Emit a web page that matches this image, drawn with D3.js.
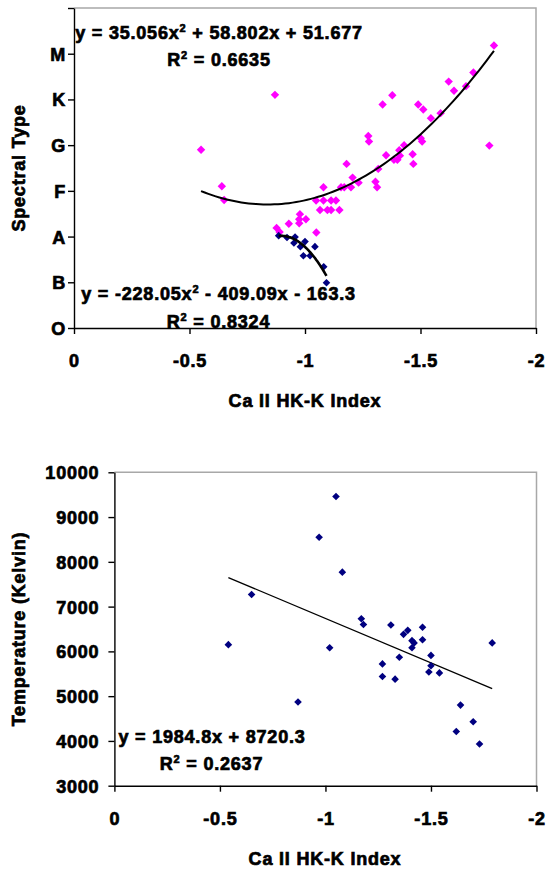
<!DOCTYPE html>
<html>
<head>
<meta charset="utf-8">
<script src="https://cdn.jsdelivr.net/npm/d3@7"></script>
<style>
  html, body { margin: 0; padding: 0; background: #fff; }
  svg text { font-family: "Liberation Sans", Arial, sans-serif; font-weight: bold; font-size: 18px; letter-spacing: 0.8px; fill: #000; stroke: #000; stroke-width: 0.7px; }
</style>
</head>
<body>
<svg id="chart" width="547" height="871"></svg>
<script>
// ---------- DATA ----------
// Top chart: spectral type (O=0, B=10, A=20, F=30, G=40, K=50, M=60) vs Ca II HK-K index
const pinkX = [-0.55, -0.64, -0.65, -0.87, -0.877, -0.89, -0.93, -0.978, -0.975, -0.975, -1.004, -1.049,
  -1.048, -1.08, -1.113, -1.134, -1.065, -1.097, -1.113, -1.149, -1.08, -1.156, -1.17, -1.199,
  -1.206, -1.232, -1.18, -1.274, -1.277, -1.336, -1.378, -1.49, -1.512, -1.545, -1.587,
  -1.351, -1.317, -1.305, -1.312, -1.408, -1.429, -1.385, -1.40, -1.411, -1.466, -1.469,
  -1.501, -1.507, -1.798, -1.622, -1.645, -1.697, -1.729, -1.818];
const pinkY = [39, 31, 28, 51, 21.9, 21, 22.8, 24.9, 23.8, 22.9, 23.8, 20.9,
  27.9, 27.9, 27.9, 27.9, 25.8, 25.8, 25.8, 25.8, 30.8, 30.8, 30.8, 30.8,
  32.9, 31.8, 35.9, 42.0, 40.8, 48.9, 50.9, 48.9, 47.8, 45.9, 47.0,
  37.8, 34.8, 32.0, 30.8, 38.9, 40.0, 36.8, 36.8, 37.7, 38.0, 35.9,
  41.5, 40.8, 39.9, 53.9, 51.9, 52.9, 55.9, 61.8];
const navyX = [-0.886, -0.922, -0.957, -0.952, -0.98, -1.0, -0.993, -1.022, -1.043, -1.081, -1.093];
const navyY = [20.2, 19.8, 19.9, 18.6, 17.8, 18.9, 15.8, 15.8, 17.8, 13.4, 9.9];
const spectralTicks = [0, 10, 20, 30, 40, 50, 60, 70];
const spectralLabels = ["O", "B", "A", "F", "G", "K", "M", ""];
const pinkFit = [35.056, 58.802, 51.677];     // a, b, c
const navyFit = [-228.05, -409.09, -163.3];
const pinkEq = ["y = 35.056x", "2", " + 58.802x + 51.677"]; const pinkR2 = "0.6635";
const navyEq = ["y = -228.05x", "2", " - 409.09x - 163.3"]; const navyR2 = "0.8324";

// Bottom chart: temperature vs Ca II HK-K index
const tempX = [-0.54, -0.65, -0.87, -0.97, -1.02, -1.05, -1.08, -1.17, -1.18, -1.27, -1.27, -1.31,
  -1.33, -1.35, -1.37, -1.39, -1.41, -1.42, -1.41, -1.46, -1.46, -1.50, -1.50, -1.49, -1.54,
  -1.62, -1.64, -1.70, -1.73, -1.79];
const tempY = [6150, 7270, 4870, 8550, 6080, 9460, 7770, 6730, 6600, 5720, 5440, 6590,
  5380, 5870, 6380, 6470, 6240, 6190, 6080, 6260, 6540, 5910, 5680, 5540, 5520,
  4210, 4800, 4430, 3930, 6190];
const tempTicks = [3000, 4000, 5000, 6000, 7000, 8000, 9000, 10000];
const indexTicks = [0, -0.5, -1, -1.5, -2];
const tempFit = [1984.8, 8720.3];  // slope, intercept
const tempEq = "y = 1984.8x + 8720.3"; const tempR2 = "0.2637";
const xTitle = "Ca II HK-K Index";

// ---------- DRAW ----------
const svg = d3.select("#chart");
const diamond = r => `M0,${-r}L${r},0L0,${r}L${-r},0Z`;

function frame(g, x, y) {
  const [x0, x1] = x.range(), [y0, y1] = y.range();
  g.append("path").attr("d", `M${x0},${y1}H${x1}V${y0}`)
    .attr("fill", "none").attr("stroke", "#a8a8a8").attr("stroke-width", 1.5);
}
function styleAxis(g) {
  g.select(".domain").attr("stroke", "#000").attr("stroke-width", 1.4);
  g.selectAll(".tick line").attr("stroke", "#000").attr("stroke-width", 1.4);
  g.selectAll(".tick text").attr("fill", "#000");
  g.attr("font-family", null).attr("font-size", null);
}
function eqText(g, cx, base, parts, r2, base2) {
  const t = g.append("text").attr("x", cx).attr("y", base).attr("text-anchor", "middle");
  t.append("tspan").text(parts[0]);
  t.append("tspan").attr("dy", -7).style("font-size", "11px").text(parts[1]);
  t.append("tspan").attr("dy", 7).text(parts[2]);
  const t2 = g.append("text").attr("x", cx).attr("y", base2).attr("text-anchor", "middle");
  t2.append("tspan").text("R");
  t2.append("tspan").attr("dy", -7).style("font-size", "11px").text("2");
  t2.append("tspan").attr("dy", 7).text(" = " + r2);
}

// ----- Top chart -----
{
  const x = d3.scaleLinear().domain([0, -2]).range([74, 536]);
  const y = d3.scaleLinear().domain([0, 70]).range([328, 8]);
  const g = svg.append("g");
  frame(g, x, y);
  const ax = g.append("g").attr("transform", `translate(0,${y(0)})`)
    .call(d3.axisBottom(x).tickValues(indexTicks).tickFormat(d => d === 0 ? "0" : String(d)).tickSize(6).tickSizeOuter(0).tickPadding(20.5));
  styleAxis(ax);
  const ay = g.append("g").attr("transform", `translate(${x(0)},0)`)
    .call(d3.axisLeft(y).tickValues(spectralTicks).tickFormat((d, i) => spectralLabels[i]).tickSize(6).tickSizeOuter(0).tickPadding(2));
  styleAxis(ay);
  ay.selectAll(".tick text").attr("dy", "0.36em");

  const quad = (c, v) => c[0] * v * v + c[1] * v + c[2];
  const curve = (xs, c) => {
    const lo = d3.max(xs), hi = d3.min(xs), n = 80;
    return d3.range(n + 1).map(i => { const v = lo + (hi - lo) * i / n; return [x(v), y(quad(c, v))]; });
  };
  const line = d3.line();
  g.selectAll(".pink").data(pinkX).join("path")
    .attr("d", diamond(4.2)).attr("fill", "#ff00ff")
    .attr("transform", (d, i) => `translate(${x(d)},${y(pinkY[i])})`);
  g.selectAll(".navy").data(navyX).join("path")
    .attr("d", diamond(3.8)).attr("fill", "#000080")
    .attr("transform", (d, i) => `translate(${x(d)},${y(navyY[i])})`);
  g.append("path").attr("d", line(curve(pinkX, pinkFit))).attr("fill", "none").attr("stroke", "#000").attr("stroke-width", 2);
  g.append("path").attr("d", line(curve(navyX, navyFit))).attr("fill", "none").attr("stroke", "#000").attr("stroke-width", 2.6);

  eqText(g, 219, 38.5, pinkEq, pinkR2, 65.7);
  eqText(g, 218.5, 300, navyEq, navyR2, 328.3);

  g.append("text").attr("x", 305).attr("y", 407).attr("text-anchor", "middle").text(xTitle);
  g.append("text").attr("transform", "translate(25,168) rotate(-90)").attr("text-anchor", "middle").text("Spectral Type");
}

// ----- Bottom chart -----
{
  const x = d3.scaleLinear().domain([0, -2]).range([114.4, 536.5]);
  const y = d3.scaleLinear().domain([3000, 10000]).range([785.7, 472.3]);
  const g = svg.append("g");
  frame(g, x, y);
  const ax = g.append("g").attr("transform", `translate(0,${y(3000)})`)
    .call(d3.axisBottom(x).tickValues(indexTicks).tickFormat(d => d === 0 ? "0" : String(d)).tickSize(6).tickSizeOuter(0).tickPadding(20.5));
  styleAxis(ax);
  const ay = g.append("g").attr("transform", `translate(${x(0)},0)`)
    .call(d3.axisLeft(y).tickValues(tempTicks).tickFormat(d3.format("d")).tickSize(6).tickSizeOuter(0).tickPadding(9));
  styleAxis(ay);
  ay.selectAll(".tick text").attr("dy", "0.36em");

  const lo = d3.max(tempX), hi = d3.min(tempX);
  g.append("line")
    .attr("x1", x(lo)).attr("y1", y(tempFit[0] * lo + tempFit[1]))
    .attr("x2", x(hi)).attr("y2", y(tempFit[0] * hi + tempFit[1]))
    .attr("stroke", "#000").attr("stroke-width", 1.3);
  g.selectAll(".pt").data(tempX).join("path")
    .attr("d", diamond(3.8)).attr("fill", "#000080")
    .attr("transform", (d, i) => `translate(${x(d)},${y(tempY[i])})`);

  g.append("text").attr("x", 212).attr("y", 742.7).attr("text-anchor", "middle").text(tempEq);
  const t2 = g.append("text").attr("x", 211.5).attr("y", 770).attr("text-anchor", "middle");
  t2.append("tspan").text("R");
  t2.append("tspan").attr("dy", -7).style("font-size", "11px").text("2");
  t2.append("tspan").attr("dy", 7).text(" = " + tempR2);

  g.append("text").attr("x", 325).attr("y", 865).attr("text-anchor", "middle").text(xTitle);
  g.append("text").attr("transform", "translate(25,629) rotate(-90)").attr("text-anchor", "middle").text("Temperature (Kelvin)");
}
</script>
</body>
</html>
